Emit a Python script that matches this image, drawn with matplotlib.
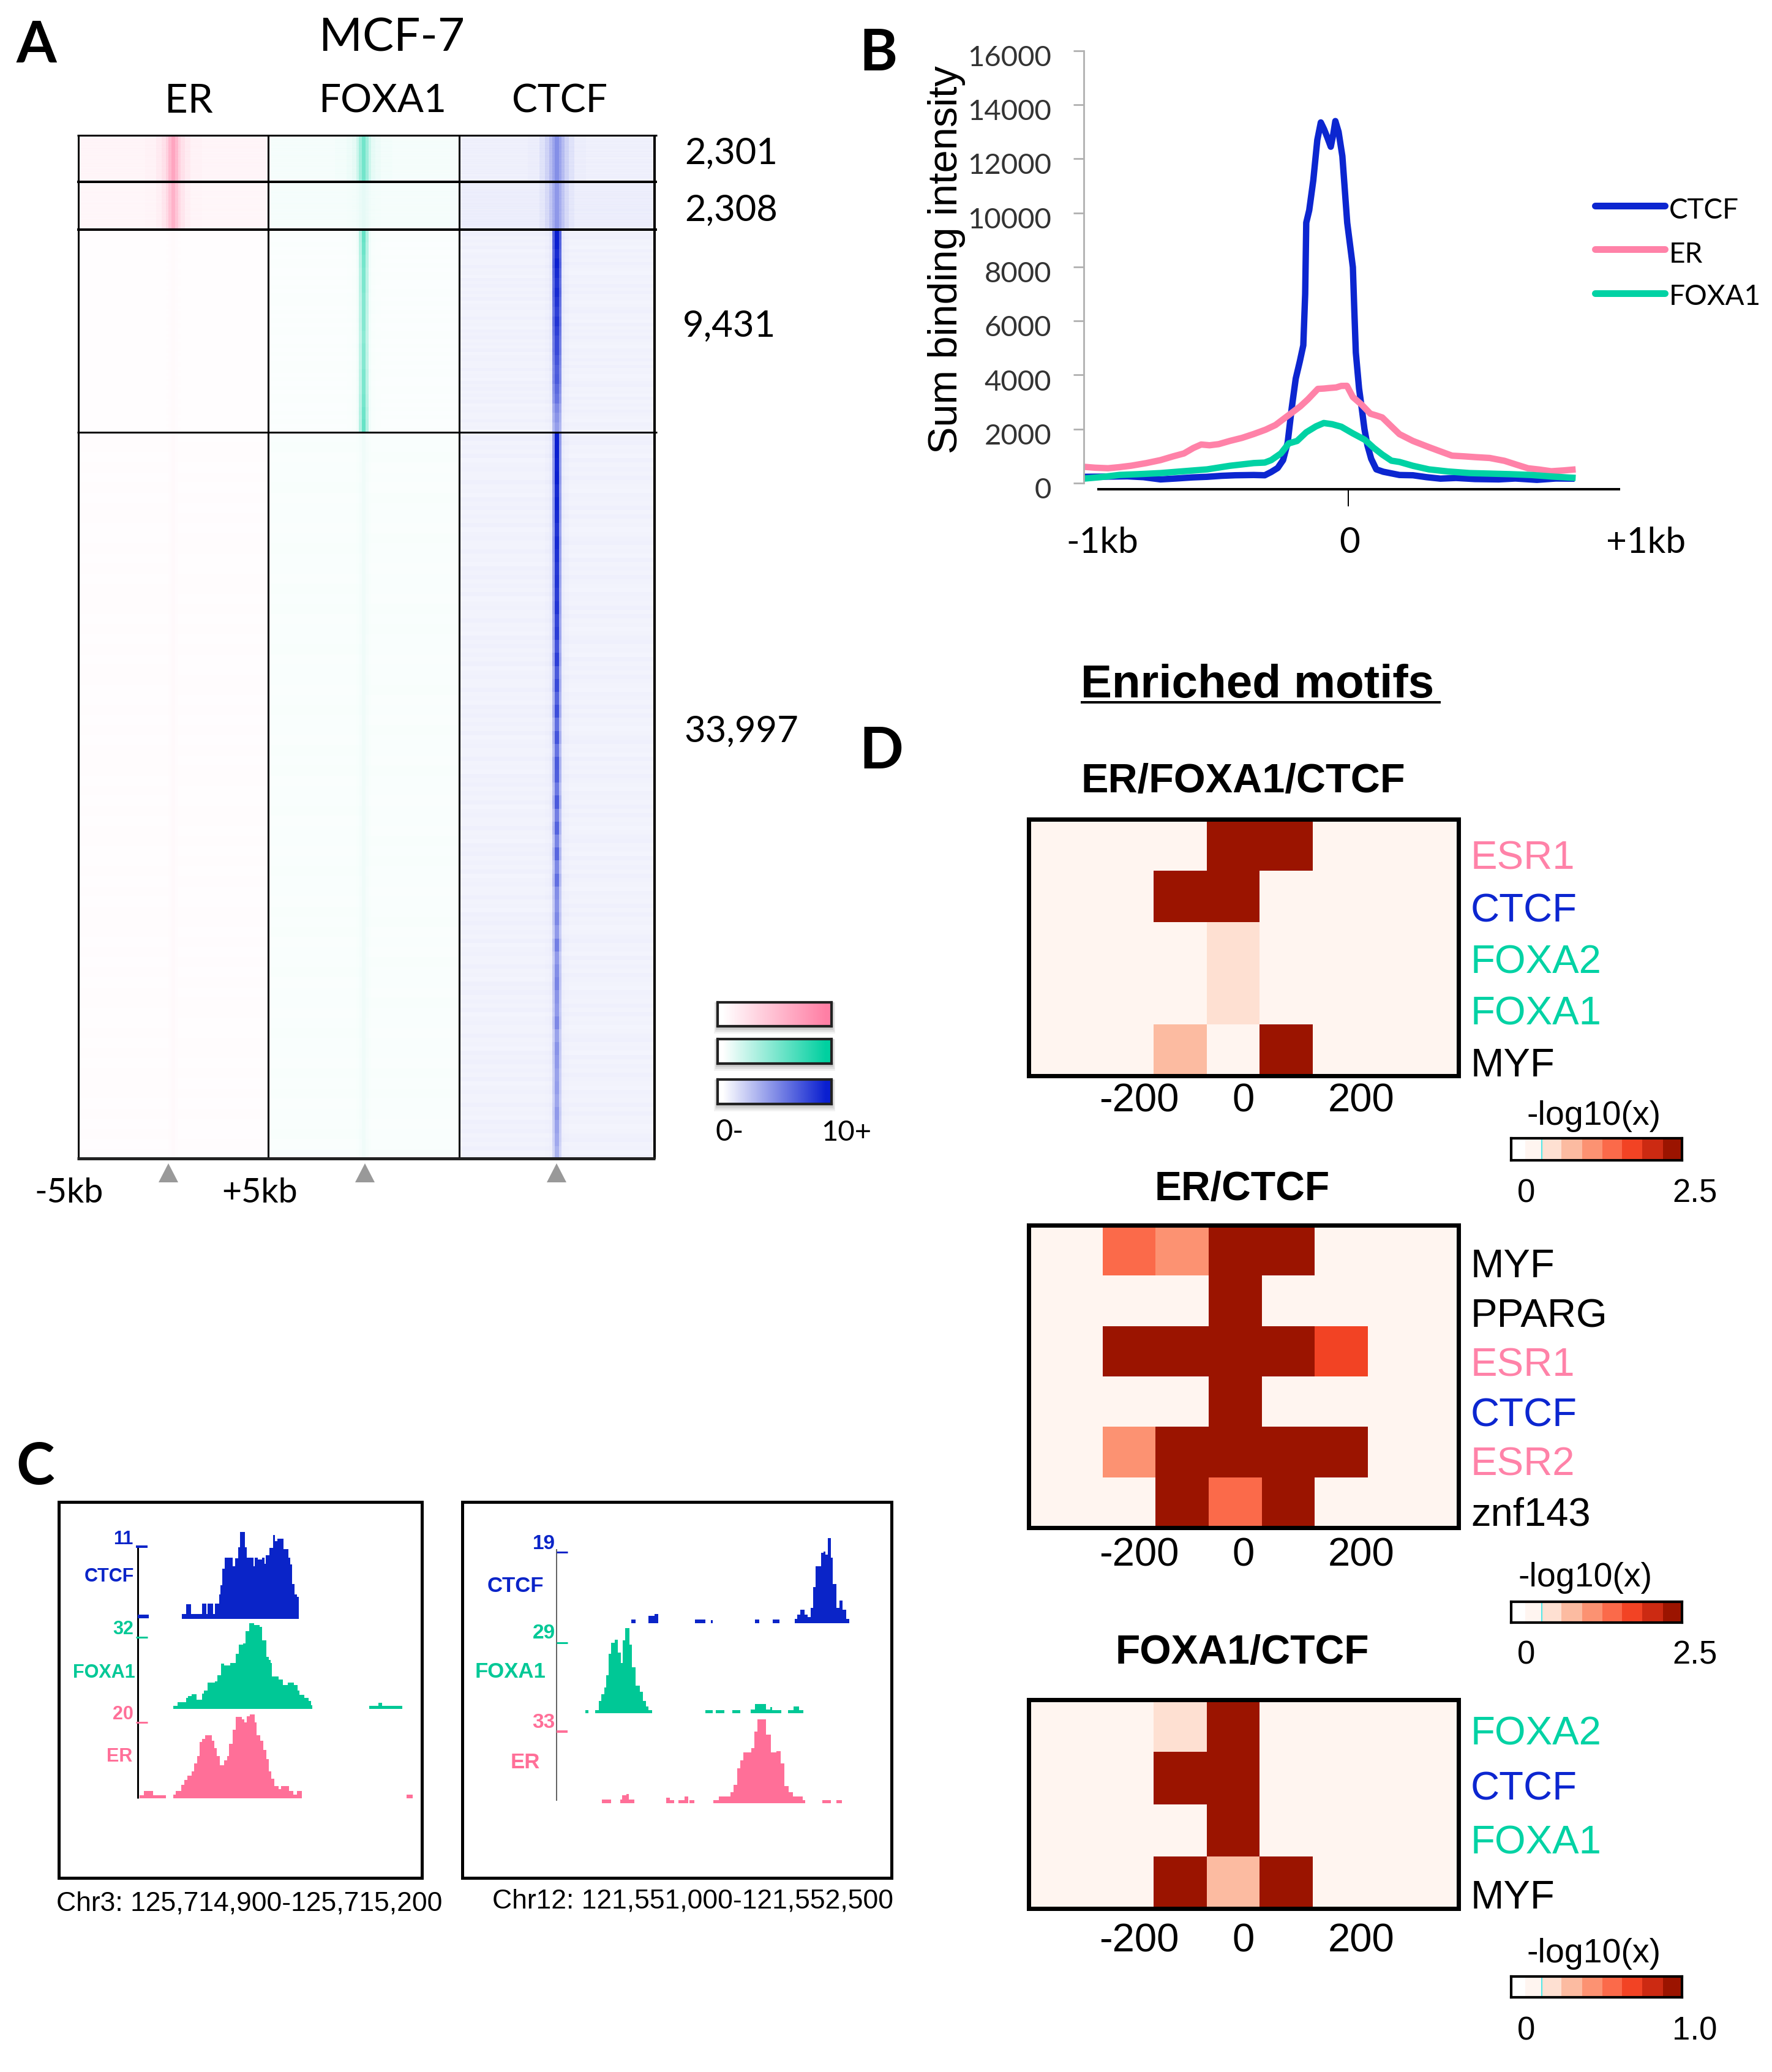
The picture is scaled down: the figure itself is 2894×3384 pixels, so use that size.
import numpy as np
import matplotlib
matplotlib.use('Agg')
import matplotlib.pyplot as plt
from matplotlib.colors import LinearSegmentedColormap, ListedColormap
from matplotlib.patches import Rectangle, Polygon
from matplotlib.transforms import ScaledTranslation

W, H = 2894, 3384
SANS = 'Lato'
ARIAL = 'Liberation Sans'
PINK, GREEN, BLUE = '#ff82a8', '#00d2a4', '#0c26d0'
T_PINK, T_GREEN, T_BLUE = '#ff6f98', '#00c896', '#0a24c8'

# ---------- Panel A ----------
a_marks = ['ER', 'FOXA1', 'CTCF']
a_counts = ['2,301', '2,308', '9,431', '33,997']
a_edges_kb = [-5, -1.5, -0.9, -0.6, -0.4, -0.25, -0.1, 0.1, 0.25, 0.4, 0.6, 0.9, 1.5, 5]
er_profiles = [
    [0.8, 1.0, 1.6, 2.4, 3.6, 5.5, 7.0, 5.5, 3.6, 2.4, 1.6, 1.0, 0.8],
    [0.7, 0.8, 1.2, 2.0, 3.0, 4.5, 6.0, 4.5, 3.0, 2.0, 1.2, 0.8, 0.7],
    [0.15, 0.15, 0.15, 0.15, 0.2, 0.3, 0.4, 0.3, 0.2, 0.15, 0.15, 0.15, 0.15],
    [0.2, 0.2, 0.2, 0.2, 0.2, 0.3, 0.5, 0.3, 0.2, 0.2, 0.2, 0.2, 0.2]]
foxa1_profiles = [
    [0.4, 0.5, 0.7, 1.0, 2.0, 3.8, 5.5, 3.8, 2.0, 1.0, 0.7, 0.5, 0.4],
    [0.4, 0.4, 0.45, 0.5, 0.6, 0.8, 1.0, 0.8, 0.6, 0.5, 0.45, 0.4, 0.4],
    [0.2, 0.2, 0.22, 0.3, 0.6, 3.0, 6.0, 3.0, 0.6, 0.3, 0.22, 0.2, 0.2],
    [0.25, 0.25, 0.25, 0.25, 0.3, 0.4, 0.6, 0.4, 0.3, 0.25, 0.25, 0.25, 0.25]]
ctcf_profiles = [
    [0.7, 0.8, 1.3, 2.0, 3.0, 4.0, 5.0, 4.0, 3.0, 2.0, 1.3, 0.8, 0.7],
    [0.8, 0.8, 1.1, 1.7, 2.6, 3.6, 4.6, 3.6, 2.6, 1.7, 1.1, 0.8, 0.8],
    [0.6, 0.6, 0.6, 0.7, 1.0, 7.0, 10, 7.0, 1.0, 0.7, 0.6, 0.6, 0.6],
    [0.6, 0.6, 0.6, 0.7, 0.9, 4.5, 10, 4.5, 0.9, 0.7, 0.6, 0.6, 0.6]]
left_streak = [1.0, 1.2, 0.85, 1.1, 0.9, 1.25, 0.8, 1.05, 1.15, 0.85, 0.95, 1.3, 0.9, 1.0, 0.8, 1.2]
right_streak = [0.9, 1.1, 1.3, 0.85, 1.0, 0.8, 1.2, 0.95, 1.1, 0.85, 1.25, 1.0, 0.9, 0.8, 1.15, 1.05, 0.85,
                1.2, 0.95, 1.3, 0.9, 1.05, 0.8]
ctcf_b3_strength = [1.0, 1.0, 0.95, 1.0, 0.95, 0.9, 0.95, 0.9, 0.85, 0.9, 0.85, 0.8,
                    0.8, 0.75, 0.7, 0.72, 0.65, 0.6, 0.5, 0.45, 0.4]
ctcf_b4_strength = [1.0, 1.0, 0.98, 1.0, 0.95, 0.98, 0.95, 0.9, 0.95, 0.92, 0.88, 0.9, 0.86, 0.9,
                    0.82, 0.86, 0.75, 0.85, 0.72, 0.8, 0.68, 0.78, 0.62, 0.75, 0.6, 0.72, 0.7, 0.58,
                    0.72, 0.55, 0.68, 0.52, 0.66, 0.5, 0.62, 0.48, 0.45, 0.5, 0.42, 0.55, 0.42, 0.48,
                    0.52, 0.45, 0.42, 0.5, 0.38, 0.45, 0.42, 0.38, 0.4, 0.36, 0.42, 0.38, 0.35, 0.3]
foxa1_b3_strength = [1.0, 0.95, 0.9, 0.85, 0.85, 0.8, 0.8, 0.8, 0.75, 0.8, 0.8, 0.85, 0.85, 0.9, 0.95, 1.0]
legend_levels = [0, 1, 2, 3, 4, 5, 6, 7, 8, 9, 10]

# ---------- Panel B ----------
b_ticks = [0, 2000, 4000, 6000, 8000, 10000, 12000, 14000, 16000]
ctcf_bp = [-983, -900, -820, -760, -697, -640, -580, -524, -470, -420, -351, -310, -286, -262, -242, -225, -210, -195,
           -180, -167, -160, -156, -145, -130, -115, -102, -90, -78, -65, -56, -48, -36, -22, -4, 8, 17, 22, 28, 40, 50,
           60, 71, 85, 104, 130, 160, 190, 240, 290, 342, 400, 470, 558, 620, 700, 770, 840]
ctcf_val = [233, 240, 250, 220, 137, 170, 210, 233, 270, 290, 300, 290, 412, 560, 851, 1500, 2773, 3870,
            4500, 5100, 7000, 9640, 10100, 11200, 12700, 13350, 13100, 12800, 12450, 12900, 13400, 13000, 12100, 9640, 8700, 7990, 6500, 4830, 3500, 2770,
            2000, 1400, 900, 508, 420, 360, 300, 290, 220, 165, 190, 150, 137, 170, 120, 170, 165]
er_bp = [-983, -940, -892, -850, -805, -750, -697, -650, -610, -575, -546, -515, -481, -440, -394, -350, -307, -270, -242,
         -210, -178, -150, -113, -90, -70, -45, -26, -5, 17, 50, 82, 105, 126, 160, 190, 240, 299, 340, 385, 430, 472,
         525, 580, 625, 667, 710, 753, 800, 844]
er_val = [604, 570, 550, 590, 645, 740, 851, 990, 1098, 1300, 1428, 1400, 1442, 1560, 1675, 1820, 1977, 2150, 2362,
          2600, 2842, 3100, 3487, 3500, 3520, 3540, 3597, 3600, 3185, 2900, 2568, 2500, 2430, 2100, 1812, 1560, 1332, 1180, 1016, 990, 961,
          930, 824, 680, 549, 500, 439, 470, 508]
foxa1_bp = [-983, -920, -849, -780, -697, -610, -524, -440, -351, -310, -286, -250, -221, -190, -156, -120, -91, -60, -26,
            15, 61, 95, 126, 160, 190, 240, 299, 370, 450, 530, 602, 680, 760, 844]
foxa1_val = [165, 220, 302, 330, 371, 440, 508, 640, 741, 760, 851, 1100, 1469, 1560, 1881, 2100, 2224, 2180, 2087,
             1850, 1606, 1300, 1057, 830, 783, 640, 508, 430, 371, 350, 330, 300, 240, 192]

# ---------- Panel C (positions on the browser strip, heights of the bars) ----------
c1_ctcf_x = [612, 628, 644, 682, 695, 700, 718, 724, 738, 743, 750, 757, 785, 792, 802, 808, 826, 832, 854, 858, 868,
             884, 892, 896, 908, 920, 926, 934, 955, 972, 978, 985, 992, 1000, 1007]
c1_ctcf_h = [15, 48, 15, 50, 15, 50, 15, 50, 80, 110, 165, 200, 172, 198, 235, 285, 235, 200, 172, 200,
             194, 200, 180, 208, 232, 275, 255, 262, 228, 200, 178, 115, 80, 72]
c1_foxa1_x = [585, 598, 628, 634, 645, 662, 680, 688, 700, 725, 732, 744, 755, 775, 794, 805, 820, 828, 840, 856, 876,
              884, 898, 905, 912, 917, 938, 954, 970, 990, 1002, 1010, 1025, 1040, 1048, 1052, 1244, 1275, 1288, 1355]
c1_foxa1_h = [10, 22, 35, 42, 47, 30, 50, 60, 85, 90, 110, 148, 142, 150, 180, 210, 215, 255, 280, 275,
              268, 225, 170, 160, 150, 105, 95, 78, 85, 78, 60, 45, 35, 25, 12, 0, 10, 20, 10]
c1_er_x = [470, 485, 515, 560, 585, 592, 610, 622, 632, 645, 655, 665, 672, 680, 692, 715, 722, 730, 740, 755, 765, 772,
           785, 795, 815, 823, 832, 842, 858, 865, 878, 888, 898, 905, 915, 925, 940, 948, 975, 988, 1000, 1018, 1370, 1392]
c1_er_h = [10, 25, 10, 0, 12, 25, 45, 60, 75, 90, 115, 140, 185, 195, 207, 190, 165, 140, 110, 125, 140,
           180, 225, 268, 260, 250, 270, 277, 250, 207, 190, 160, 130, 90, 65, 40, 30, 40, 25, 12, 25, 0, 12]
c2_ctcf_x = [600, 615, 658, 680, 692, 816, 850, 868, 876, 1018, 1032, 1078, 1100, 1152, 1160, 1170, 1185, 1195, 1205,
             1214, 1222, 1240, 1248, 1255, 1262, 1272, 1280, 1292, 1302, 1312, 1325, 1335]
c2_ctcf_h = [12, 0, 25, 30, 0, 12, 0, 10, 0, 12, 0, 12, 0, 15, 28, 45, 28, 20, 50,
             120, 187, 232, 235, 225, 280, 215, 130, 50, 75, 45, 15]
c2_foxa1_x = [447, 456, 480, 492, 500, 510, 517, 525, 532, 545, 555, 565, 572, 580, 594, 604, 615, 630, 640, 650, 658, 672,
              850, 875, 885, 915, 942, 968, 1002, 1018, 1055, 1068, 1076, 1106, 1128, 1148, 1165, 1180]
c2_foxa1_h = [10, 0, 10, 40, 62, 85, 125, 195, 232, 242, 200, 165, 240, 280, 225, 150, 90, 70, 40, 22, 10, 0,
              10, 0, 10, 0, 10, 0, 12, 30, 12, 20, 10, 0, 10, 22, 10]
c2_er_x = [503, 533, 563, 570, 585, 592, 612, 718, 730, 746, 760, 780, 792, 796, 813, 877, 895, 935, 945, 958, 968, 978,
           1005, 1015, 1025, 1055, 1070, 1090, 1103, 1116, 1130, 1145, 1178, 1187, 1244, 1272, 1292, 1310]
c2_er_h = [12, 0, 12, 25, 30, 12, 0, 18, 10, 0, 10, 22, 0, 10, 0, 10, 22, 35, 60, 115, 140,
           167, 180, 235, 275, 225, 167, 170, 130, 55, 35, 22, 10, 0, 10, 0, 10]

# ---------- Panel D ----------
d_bins = [-400, -300, -200, -100, 0, 100, 200, 300, 400]
d_colors = ['#ffffff', '#fff5f0', '#fee0d2', '#fcbba1', '#fc9272', '#fb6a4a', '#f24324', '#cc2a12', '#9b1400']
d_swatch_edges = [0, 68, 148, 240, 340, 436, 532, 628, 728, 818]
d1_rows = ['ESR1', 'CTCF', 'FOXA2', 'FOXA1', 'MYF']
d1_levels = [[1, 1, 1, 1, 8, 8, 1, 1, 1],
             [1, 1, 1, 8, 8, 1, 1, 1, 1],
             [1, 1, 1, 1, 2, 1, 1, 1, 1],
             [1, 1, 1, 1, 2, 1, 1, 1, 1],
             [1, 1, 1, 3, 1, 8, 1, 1, 1]]
d2_rows = ['MYF', 'PPARG', 'ESR1', 'CTCF', 'ESR2', 'znf143']
d2_levels = [[1, 1, 5, 4, 8, 8, 1, 1, 1],
             [1, 1, 1, 1, 8, 1, 1, 1, 1],
             [1, 1, 8, 8, 8, 8, 6, 1, 1],
             [1, 1, 1, 1, 8, 1, 1, 1, 1],
             [1, 1, 4, 8, 8, 8, 8, 1, 1],
             [1, 1, 1, 8, 5, 8, 1, 1, 1]]
d3_rows = ['FOXA2', 'CTCF', 'FOXA1', 'MYF']
d3_levels = [[1, 1, 1, 2, 8, 1, 1, 1, 1],
             [1, 1, 1, 8, 8, 1, 1, 1, 1],
             [1, 1, 1, 1, 8, 1, 1, 1, 1],
             [1, 1, 1, 8, 3, 8, 1, 1, 1]]
row_colors = {'ESR1': PINK, 'ESR2': PINK, 'CTCF': BLUE, 'FOXA1': GREEN, 'FOXA2': GREEN}

# ---------- Helpers ----------
fig = plt.figure(figsize=(W / 100, H / 100), dpi=100, facecolor='white')


def px_axes(x0, y0, x1, y1, **kw):
    """axes from pixel box, y measured from the top"""
    return fig.add_axes([x0 / W, 1 - y1 / H, (x1 - x0) / W, (y1 - y0) / H], **kw)


ov = fig.add_axes([0, 0, 1, 1], zorder=20)
ov.set_xlim(0, W)
ov.set_ylim(H, 0)
ov.axis('off')
ov.patch.set_alpha(0)


def T(x, y, s, size, ha='left', va='baseline', font=SANS, color='black', weight='normal', **kw):
    ov.text(x, y, s, fontsize=size, ha=ha, va=va, family=font, color=color, fontweight=weight, **kw)


def L(xs, ys, px, color='black', **kw):
    ov.plot(xs, ys, color=color, lw=px * 0.72, solid_capstyle=kw.pop('cap', 'butt'), **kw)


for s, x, y in [('A', 27, 102), ('B', 1403, 115), ('C', 26, 2424), ('D', 1403, 1255)]:
    T(x, y, s, 68, weight='bold')

# ---------- Panel A drawing ----------
block_y = [220, 297, 375, 706, 1893]
col_x = [128, 438, 750, 1069]
cmaps = [LinearSegmentedColormap.from_list('er', ['#ffffff', '#ff7fa5']),
         LinearSegmentedColormap.from_list('fx', ['#ffffff', '#00d0a0']),
         LinearSegmentedColormap.from_list('ct', ['#ffffff', '#0a1fd0'])]
profiles = [er_profiles, foxa1_profiles, ctcf_profiles]
strengths = {(2, 2): ctcf_b3_strength, (2, 3): ctcf_b4_strength, (1, 2): foxa1_b3_strength}
for c in range(3):
    for b in range(4):
        prof = np.array(profiles[c][b], float)
        strength = strengths.get((c, b), [1.0] * 24)
        nrow = len(strength) * 3
        base = prof[0]
        m = np.zeros((nrow, len(prof)))
        for i in range(nrow):
            ls = 1 + (left_streak[i % len(left_streak)] - 1) * 0.55
            rs = 1 + (right_streak[i % len(right_streak)] - 1) * 0.55
            core = base + (prof - base) * strength[i // 3]
            m[i, :6] = core[:6] + base * (ls - 1)
            m[i, 6] = core[6]
            m[i, 7:] = core[7:] + base * (rs - 1)
        ax = px_axes(col_x[c], block_y[b], col_x[c + 1], block_y[b + 1])
        ax.pcolormesh(a_edges_kb, np.arange(nrow + 1), m, cmap=cmaps[c], vmin=0, vmax=10, shading='flat',
                      rasterized=True)
        ax.set_ylim(nrow, 0)
        ax.axis('off')

L([128, 128], [220, 1893], 3)
L([438, 438], [220, 1893], 3)
L([750, 750], [220, 1893], 3)
L([1069, 1069], [220, 1893], 4)
L([126, 1073], [221, 221], 3)
L([126, 1073], [297, 297], 4)
L([126, 1073], [375, 375], 4)
L([126, 1073], [706, 706], 3)
L([126, 1070], [1892, 1892], 5, color='#222222')

T(521, 84, 'MCF-7', 55)
T(269, 184, a_marks[0], 47)
T(520, 184, a_marks[1], 46)
T(836, 184, a_marks[2], 45)
for s, x, y in zip(a_counts, [1118, 1118, 1115, 1117], [268, 361, 550, 1212]):
    T(x, y, s, 43)
for x in [275, 596, 909]:
    ov.add_patch(Polygon([[x - 16, 1931], [x + 16, 1931], [x, 1900]], closed=True, color='#999999', lw=0))
T(56, 1964, '-5kb', 40)
T(362, 1964, '+5kb', 40)

# legend bars
for i, (cm, (y0, y1)) in enumerate(zip(cmaps, [(1637, 1676), (1697, 1737), (1763, 1803)])):
    ax = px_axes(1172, y0, 1358, y1, zorder=5)
    ax.imshow([legend_levels], cmap=cm, vmin=0, vmax=10, aspect='auto', interpolation='bilinear',
              extent=[0, 10, 0, 1])
    ax.set_xticks([])
    ax.set_yticks([])
    for sp in ax.spines.values():
        sp.set_linewidth(3)
        sp.set_color('#222222')
    for k, a in zip([12, 9, 6, 3], [0.05, 0.07, 0.08, 0.10]):
        fig.patches.append(Rectangle(((1172 - k / 2) / W, 1 - (y1 + k) / H), (186 + k) / W, (y1 - y0 + k) / H,
                                     transform=fig.transFigure, color='black', alpha=a, lw=0, zorder=1))
T(1169, 1863, '0-', 35)
T(1341, 1863, '10+', 34)

# ---------- Panel B drawing ----------
axb = px_axes(1770, 83, 2650, 789)
axb.patch.set_alpha(0)
axb.set_xlim((1770 - 2202) / 0.44, (2650 - 2202) / 0.44)
axb.set_ylim(0, 16000)
kw = dict(lw=7.5, solid_capstyle='butt', solid_joinstyle='round', clip_on=False)
axb.plot(ctcf_bp, ctcf_val, color=BLUE, **kw)
axb.plot(er_bp, er_val, color=PINK, **kw)
axb.plot(foxa1_bp, foxa1_val, color=GREEN, **kw)
for sp in ['top', 'right', 'bottom']:
    axb.spines[sp].set_visible(False)
axb.spines['left'].set_color('#b0b0b0')
axb.spines['left'].set_linewidth(2)
axb.set_xticks([])
axb.set_yticks(b_ticks)
axb.set_yticklabels([str(v) for v in b_ticks], family=SANS, fontsize=34, color='#333333')
axb.tick_params(axis='y', length=12, width=2, color='#b0b0b0', pad=26)
for lab in axb.get_yticklabels():
    lab.set_transform(lab.get_transform() + ScaledTranslation(0, -8 / 100, fig.dpi_scale_trans))
L([1792, 2646], [799, 799], 4)
L([2202, 2202], [799, 827], 2)
T(1546, 424, 'Sum binding intensity', 48, ha='center', va='center', font=ARIAL, rotation=90)
T(1800, 903, '-1kb', 42, ha='center')
T(2204, 903, '0', 42, ha='center')
T(2688, 903, '+1kb', 42, ha='center')
for s, c, y, ty in [('CTCF', BLUE, 336, 344), ('ER', PINK, 407, 416), ('FOXA1', GREEN, 479, 485)]:
    L([2605, 2719], [y, y], 11, color=c, cap='round')
    T(2726, ty, s, 33, va='center')

# ---------- Panel C drawing ----------
def track(box, x0d, x1d, base_d, tick_d, xs, hs, color):
    top = 2400 + tick_d / 2.01
    bot = 2400 + base_d / 2.01
    ax = px_axes(box[0], top, box[1], bot)
    ax.patch.set_alpha(0)
    ax.set_xlim(x0d, x1d)
    ax.set_ylim(0, base_d - tick_d)
    ax.axis('off')
    ax.fill_between(xs, list(hs) + [0], 0, step='post', color=color, lw=0, clip_on=False)


box1 = (96, 689)
box2 = (755, 1456)
track(box1, 198, 1422, 490, 253, c1_ctcf_x, c1_ctcf_h, T_BLUE)
track(box1, 198, 1422, 785, 550, c1_foxa1_x, c1_foxa1_h, T_GREEN)
track(box1, 198, 1422, 1080, 830, c1_er_x, c1_er_h, T_PINK)
track(box2, 32, 1477, 505, 272, c2_ctcf_x, c2_ctcf_h, T_BLUE)
track(box2, 32, 1477, 800, 568, c2_foxa1_x, c2_foxa1_h, T_GREEN)
track(box2, 32, 1477, 1095, 861, c2_er_x, c2_er_h, T_PINK)
for (x0, x1) in [box1, box2]:
    ov.add_patch(Rectangle((x0, 2453), x1 - x0, 614, fill=False, ec='black', lw=5 * 0.72))
L([225, 225], [2526, 2937], 3)
L([222, 241], [2526, 2526], 4, color=T_BLUE)
L([225, 243], [2640, 2640], 6, color=T_BLUE)
L([222, 241], [2674, 2674], 3, color=T_GREEN)
L([222, 241], [2813, 2813], 3, color=T_PINK)
L([909, 909], [2530, 2941], 1.5, color='#333333')
L([909, 927], [2535, 2535], 3, color=T_BLUE)
L([909, 927], [2683, 2683], 3, color=T_GREEN)
L([909, 927], [2828, 2828], 4, color=T_PINK)
tb = dict(font=ARIAL, weight='bold', va='center')
T(201, 2514, '11', 22, ha='center', color=T_BLUE, **tb)
T(219, 2575, 'CTCF', 22, ha='right', color=T_BLUE, **tb)
T(201, 2661, '32', 22, ha='center', color=T_GREEN, **tb)
T(221, 2732, 'FOXA1', 22, ha='right', color=T_GREEN, **tb)
T(201, 2800, '20', 22, ha='center', color=T_PINK, **tb)
T(216, 2869, 'ER', 22, ha='right', color=T_PINK, **tb)
T(888, 2522, '19', 24, ha='center', color=T_BLUE, **tb)
T(888, 2590, 'CTCF', 25, ha='right', color=T_BLUE, **tb)
T(888, 2668, '29', 24, ha='center', color=T_GREEN, **tb)
T(891, 2731, 'FOXA1', 25, ha='right', color=T_GREEN, **tb)
T(888, 2813, '33', 24, ha='center', color=T_PINK, **tb)
T(882, 2878, 'ER', 25, ha='right', color=T_PINK, **tb)
T(92, 3120, 'Chr3: 125,714,900-125,715,200', 32, font=ARIAL)
T(804, 3116, 'Chr12: 121,551,000-121,552,500', 32, font=ARIAL)

# ---------- Panel D drawing ----------
T(1765, 1139, 'Enriched motifs', 55, font=ARIAL, weight='bold')
L([1765, 2353], [1147, 1147], 4)
T(1765, 1294, 'ER/FOXA1/CTCF', 48, font=ARIAL, weight='bold')
T(1886, 1960, 'ER/CTCF', 47.5, font=ARIAL, weight='bold')
T(1822, 2717, 'FOXA1/CTCF', 47.5, font=ARIAL, weight='bold')
d_cmap = ListedColormap(d_colors)
d_edges = [b - 50 for b in d_bins] + [d_bins[-1] + 50]


def heat(y0, y1, levels, rows, baselines, xlabel_y, shift):
    ax = px_axes(1680, y0, 2382, y1)
    ax.pcolormesh(d_edges, np.arange(len(rows) + 1), np.array(levels), cmap=d_cmap, vmin=-0.5, vmax=8.5,
                  shading='flat')
    ax.set_xlim(-386 - shift, 425 - shift)
    ax.set_ylim(len(rows), 0)
    ax.set_xticks([])
    ax.set_yticks([])
    for sp in ax.spines.values():
        sp.set_linewidth(7 * 0.72)
    for name, b in zip(rows, baselines):
        T(2402, b, name, 47, font=ARIAL, color=row_colors.get(name, 'black'))
    T(1860, xlabel_y, '-200', 47, ha='center', font=ARIAL)
    T(2031, xlabel_y, '0', 47, ha='center', font=ARIAL)
    T(2223, xlabel_y, '200', 47, ha='center', font=ARIAL)


heat(1338, 1757, d1_levels, d1_rows, [1420, 1505, 1589, 1674, 1758], 1816, 0)
heat(2001, 2495, d2_levels, d2_rows, [2086, 2167, 2248, 2330, 2410, 2492], 2558, 3.7)
heat(2776, 3117, d3_levels, d3_rows, [2849, 2939, 3027, 3117], 3187, 0)


def cbar(y0, y1, title_x, title_y, lab_y, vmax):
    ax = px_axes(2468, y0, 2747, y1)
    ax.pcolormesh(d_swatch_edges, [0, 1], [list(range(9))], cmap=d_cmap, vmin=-0.5, vmax=8.5, shading='flat')
    ax.axvline(d_swatch_edges[2], color='#55e8e8', lw=1.5)
    ax.plot([d_swatch_edges[8], d_swatch_edges[9]], [0.03, 0.03], color='#55c8c8', lw=1)
    ax.set_xlim(d_swatch_edges[0], d_swatch_edges[-1])
    ax.set_ylim(0, 1)
    ax.set_xticks([])
    ax.set_yticks([])
    for sp in ax.spines.values():
        sp.set_linewidth(3)
    T(title_x, title_y, '-log10(x)', 40, font=ARIAL)
    T(2493, lab_y, '0', 38, ha='center', font=ARIAL)
    T(2768, lab_y, vmax, 38, ha='center', font=ARIAL)


cbar(1859, 1895, 2493, 1837, 1963, '2.5')
cbar(2616, 2650, 2479, 2591, 2718, '2.5')
cbar(3228, 3262, 2493, 3205, 3331, '1.0')

fig.savefig('out.png', dpi=100, facecolor='white')
